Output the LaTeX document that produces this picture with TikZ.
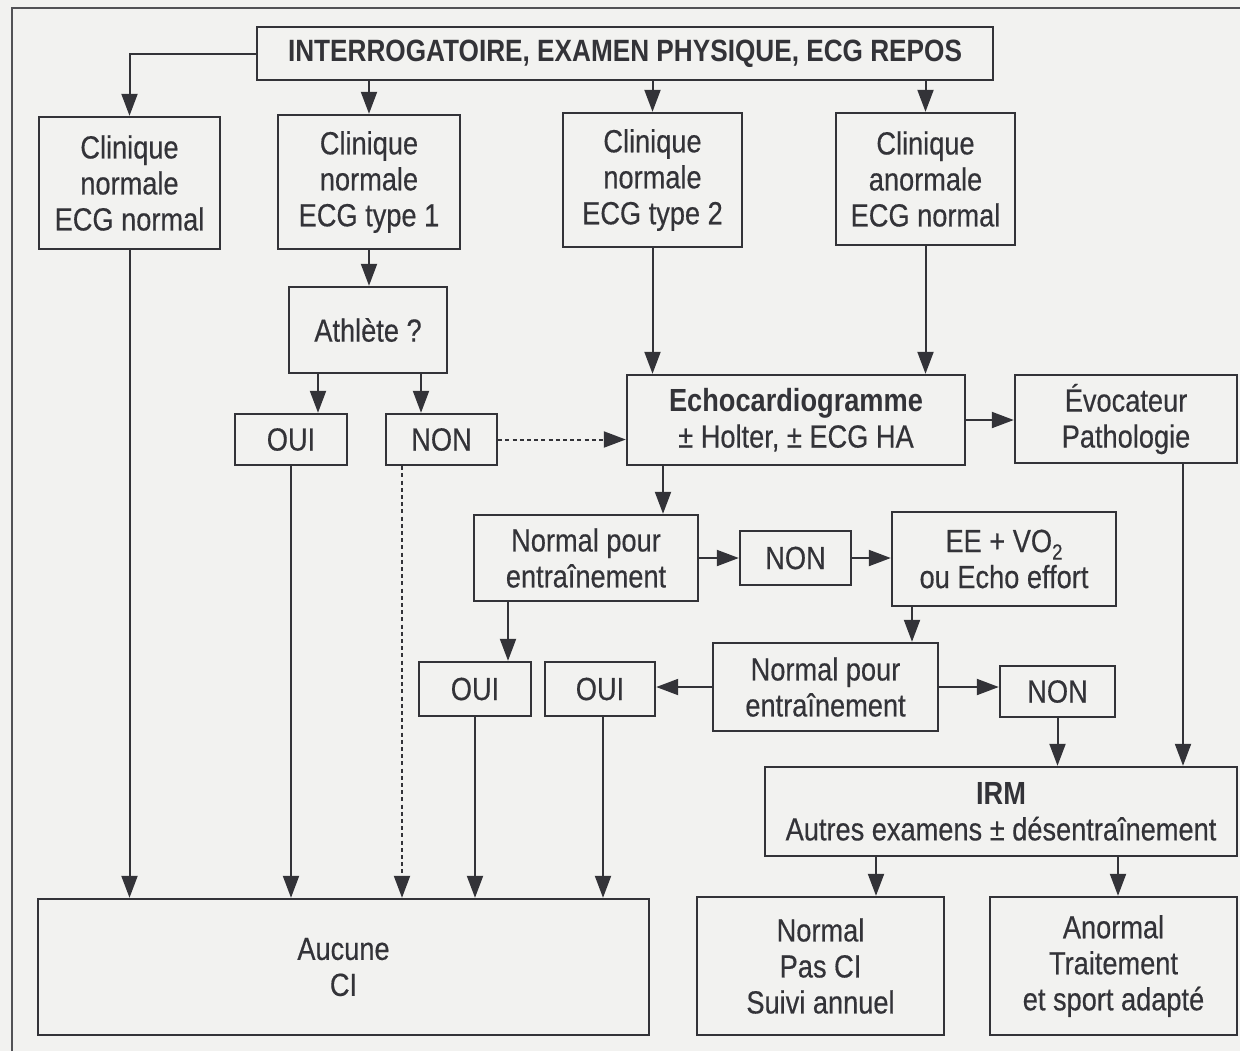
\documentclass[tikz,border=0pt]{standalone}
\usepackage{fontspec}
\setmainfont[FakeStretch=0.85, UprightFeatures={FakeBold=0.4}]{Liberation Sans}
\usetikzlibrary{arrows.meta}
\definecolor{ink}{HTML}{333338}
\definecolor{paper}{HTML}{F2F2F0}
\begin{document}
\begin{tikzpicture}[x=0.5pt,y=-0.5pt,
  box/.style={draw=ink, line width=1.2pt, inner sep=0pt, align=center,
    font=\fontsize{16}{18}\selectfont, text=ink},
  arr/.style={draw=ink, line width=1pt, -{Triangle[length=11pt,width=8pt]}},
  darr/.style={arr, dash pattern=on 2pt off 1.6pt}]
\useasboundingbox (0,0) rectangle (1240,1051);
\fill[paper] (0,0) rectangle (1240,1051);
% outer frame
\draw[ink!85, line width=1pt] (12,1051) -- (12,8) -- (1240,8);

% boxes
\node[box, minimum width=368pt, minimum height=26.5pt, font=\fontsize{15.4}{18}\selectfont\bfseries] (top) at (625,53.5)
  {INTERROGATOIRE, EXAMEN PHYSIQUE, ECG REPOS};
\node[box, minimum width=90.5pt, minimum height=66pt] (b1) at (129.5,183) {Clinique\\normale\\ECG normal};
\node[box, minimum width=91pt, minimum height=67pt] (b2) at (369,182) {Clinique\\normale\\ECG type 1};
\node[box, minimum width=89.5pt, minimum height=67pt] (b3) at (652.5,180) {Clinique\\normale\\ECG type 2};
\node[box, minimum width=89.5pt, minimum height=66pt] (b4) at (925.5,179) {Clinique\\anormale\\ECG normal};
\node[box, minimum width=79pt, minimum height=43pt] (ath) at (368,330) {Athlète ?};
\node[box, minimum width=56pt, minimum height=25.5pt] (oui1) at (291,439.5) {OUI};
\node[box, minimum width=55.5pt, minimum height=25.5pt] (non1) at (441.5,439.5) {NON};
\node[box, minimum width=169pt, minimum height=45pt] (echo) at (796,420)
  {\textbf{Echocardiogramme}\\± Holter, ± ECG HA};
\node[box, minimum width=111pt, minimum height=44pt] (evoc) at (1126,419) {Évocateur\\Pathologie};
\node[box, minimum width=112pt, minimum height=43pt] (n1) at (586,558) {Normal pour\\entraînement};
\node[box, minimum width=55.5pt, minimum height=27pt] (non2) at (795.5,558) {NON};
\node[box, minimum width=112pt, minimum height=47pt] (ee) at (1004,559)
  {EE + VO\raisebox{-0.45ex}{\fontsize{11}{11}\selectfont 2}\\ou Echo effort};
\node[box, minimum width=112.5pt, minimum height=44pt] (n2) at (825.5,687) {Normal pour\\entraînement};
\node[box, minimum width=56pt, minimum height=27pt] (oui2) at (475,689) {OUI};
\node[box, minimum width=55pt, minimum height=27pt] (oui3) at (600,689) {OUI};
\node[box, minimum width=57.5pt, minimum height=25.5pt] (non3) at (1057.5,691.5) {NON};
\node[box, minimum width=236pt, minimum height=44.5pt] (irm) at (1001,811.5)
  {\textbf{IRM}\\Autres examens ± désentraînement};
\node[box, minimum width=123.5pt, minimum height=69pt] (n3) at (820.5,966) {Normal\\Pas CI\\Suivi annuel};
\node[box, minimum width=123.5pt, minimum height=69pt] (anorm) at (1113.5,966) {Anormal\\Traitement\\et sport adapté};
\node[box, minimum width=305.5pt, minimum height=68pt] (auc) at (343.5,967) {Aucune\\CI};

% connectors from the first examination
\draw[arr] (top.west) -| (b1.north);
\draw[arr] (top.south -| b2.north) -- (b2.north);
\draw[arr] (top.south -| b3.north) -- (b3.north);
\draw[arr] (top.south -| b4.north) -- (b4.north);

% ECG type 1 branch
\draw[arr] (b2.south) -- (b2.south |- ath.north);
\draw[arr] ([xshift=-25pt]ath.south) -- ([xshift=-25pt]ath.south |- oui1.north);
\draw[arr] ([xshift=26.5pt]ath.south) -- ([xshift=26.5pt]ath.south |- non1.north);
\draw[darr] (non1.east) -- (non1.east -| echo.west);
\draw[darr] ([xshift=-19.75pt]non1.south) -- ([xshift=-19.75pt]non1.south |- auc.north);
\draw[arr] (oui1.south) -- (oui1.south |- auc.north);
\draw[arr] (b1.south) -- (b1.south |- auc.north);

% echocardiography branch
\draw[arr] (b3.south) -- (b3.south |- echo.north);
\draw[arr] (b4.south) -- (b4.south |- echo.north);
\draw[arr] (echo.east) -- (echo.east -| evoc.west);
\draw[arr] ([xshift=28.5pt]evoc.south) -- ([xshift=28.5pt]evoc.south |- irm.north);
\draw[arr] ([xshift=-66.5pt]echo.south) -- ([xshift=-66.5pt]echo.south |- n1.north);
\draw[arr] (n1.east) -- (n1.east -| non2.west);
\draw[arr] (non2.east) -- (non2.east -| ee.west);
\draw[arr] ([xshift=-46pt]ee.south) -- ([xshift=-46pt]ee.south |- n2.north);
\draw[arr] ([xshift=-39pt]n1.south) -- ([xshift=-39pt]n1.south |- oui2.north);
\draw[arr] (n2.west) -- (n2.west -| oui3.east);
\draw[arr] (n2.east) -- (n2.east -| non3.west);
\draw[arr] (oui2.south) -- (oui2.south |- auc.north);
\draw[arr] ([xshift=1.5pt]oui3.south) -- ([xshift=1.5pt]oui3.south |- auc.north);
\draw[arr] (non3.south) -- (non3.south |- irm.north);

% MRI outcomes
\draw[arr] ([xshift=-62.5pt]irm.south) -- ([xshift=-62.5pt]irm.south |- n3.north);
\draw[arr] ([xshift=58.5pt]irm.south) -- ([xshift=58.5pt]irm.south |- anorm.north);
\end{tikzpicture}
\end{document}
